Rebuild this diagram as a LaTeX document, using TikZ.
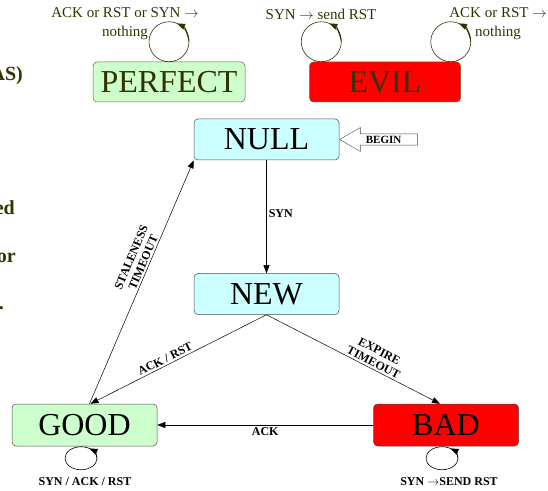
\documentclass[tikz,border=0pt]{standalone}
\usepackage{fontspec}
\setmainfont{Liberation Serif}
\usetikzlibrary{arrows.meta,positioning,shapes.arrows,calc}
\definecolor{goodgreen}{RGB}{204,255,204}
\definecolor{nullcyan}{RGB}{204,255,255}
\definecolor{badred}{RGB}{255,0,0}
\definecolor{olivetext}{RGB}{51,51,0}
\definecolor{oliveline}{RGB}{102,102,51}

\begin{document}
\begin{tikzpicture}[x=1pt, y=1pt,
    >={Triangle[length=8pt,width=6pt]},
    statebox/.style={rectangle, draw=black!70, rounded corners=4pt, minimum width=145pt, minimum height=41pt, inner sep=0pt, font=\fontsize{32}{32}\selectfont, line width=0.5pt},
    toplabel/.style={align=center, text=olivetext, inner sep=0pt, font=\fontsize{15}{19}\selectfont},
    tag/.style={font=\fontsize{12}{13}\bfseries\selectfont, inner sep=2pt},
    arrow/.style={->, line width=0.5pt},
    loopline/.style={line width=0.6pt},
    beginarrow/.style={single arrow, shape border rotate=180, draw=black!70, fill=white, minimum height=78pt, minimum width=24pt, single arrow head extend=6pt, single arrow tip angle=60, inner sep=1.5pt, font=\fontsize{11}{11}\bfseries\selectfont},
    cutoff/.style={anchor=east, inner sep=0pt, text=olivetext, font=\fontsize{20}{20}\bfseries\selectfont}
]
\useasboundingbox (0,0) rectangle (548,490);

% slide text cut off at the left
\node[cutoff] (fragas) at (23,414) {AS)};
\node[cutoff] (fraged) at (15,282) {ed};
\node[cutoff] (fragor) at (16,232) {or};
\node[cutoff] (fragdot) at (4,182) {.};

% top states
\node[statebox, fill=goodgreen, draw=oliveline, text=olivetext, minimum width=152pt, minimum height=40pt] (perfect) at (169,408) {PERFECT};
\node[statebox, fill=badred, draw=oliveline, text=olivetext, minimum width=151pt, minimum height=40pt] (evil) at (385,408) {EVIL};

% main states
\node[statebox, fill=nullcyan] (null) at (266.5,350.5) {NULL};
\node[statebox, fill=nullcyan] (new) at (266.5,196) {NEW};
\node[statebox, fill=goodgreen, minimum height=42pt] (good) at (84.5,65) {GOOD};
\node[statebox, fill=badred, minimum height=42pt] (bad) at (446,65) {BAD};
\node[beginarrow, anchor=tip] (begin) at (null.east) {BEGIN};

% self loops on top
\coordinate (perfectloop) at ($(perfect.north)+(0,20)$);
\coordinate (evilloopa) at ($(evil.north west)+(12,20)$);
\coordinate (evilloopb) at ($(evil.north east)+(-10,20)$);
\foreach \c in {perfectloop,evilloopa,evilloopb} {
  \draw[loopline, draw=olivetext] (\c) circle[radius=20pt];
  \draw[loopline, draw=olivetext, fill=olivetext, ->] ($(\c)+(0:20pt)$) arc[start angle=0, end angle=66, radius=20pt];
}
\node[toplabel] (perfectlbl) at (125,466) {ACK or RST or SYN $\rightarrow$\\nothing};
\node[toplabel] (evillbla) at (321,476) {SYN $\rightarrow$ send RST};
\node[toplabel] (evillblb) at (498,466) {ACK or RST $\rightarrow$\\nothing};

% self loops below
\coordinate (goodloop) at ($(good.south)+(-3.5,-12)$);
\coordinate (badloop) at ($(bad.south)+(-4,-12)$);
\foreach \c in {goodloop,badloop} {
  \draw[loopline] (\c) ellipse[x radius=16pt, y radius=11.5pt];
  \draw[loopline, ->] ($(\c)+(0:16pt and 11.5pt)$) arc[start angle=0, end angle=58, x radius=16pt, y radius=11.5pt];
}
\node[tag] (goodlbl) at (85,8) {SYN / ACK / RST};
\node[tag] (badlbl) at (449,8) {SYN $\rightarrow$SEND RST};

% transitions
\draw[arrow] (null) -- node[tag, right, pos=0.47] {SYN} (new);
\draw[arrow] ([xshift=5pt]good.north) -- node[tag, above, sloped, pos=0.57, align=center] {STALENESS\\TIMEOUT} (null.south west);
\draw[arrow] (new.south) -- node[tag, above, sloped, pos=0.56] {ACK / RST} ([xshift=6pt]good.north);
\draw[arrow] (new.south) -- node[tag, above, sloped, pos=0.6, align=center] {EXPIRE\\TIMEOUT} ([xshift=-6pt]bad.north);
\draw[arrow] (bad) -- node[tag, below] {ACK} (good);

\end{tikzpicture}
\end{document}
